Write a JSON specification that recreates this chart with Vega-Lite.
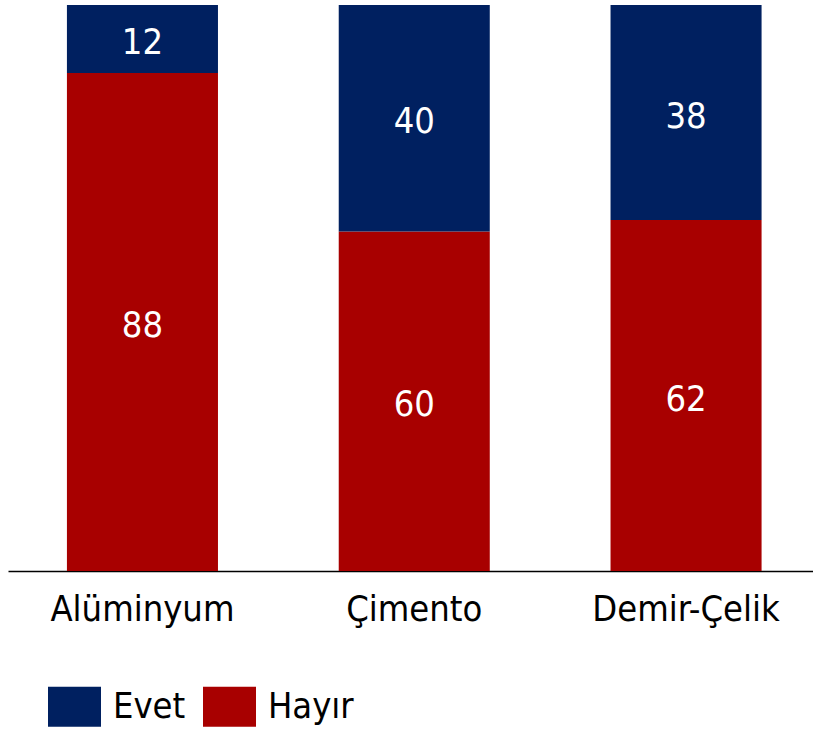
{
  "$schema": "https://vega.github.io/schema/vega-lite/v6.json",
  "width": 805,
  "height": 566,
  "autosize": "none",
  "padding": {"left": 8, "top": 5, "right": 0, "bottom": 159},
  "background": "white",
  "config": {"view": {"stroke": null}},
  "data": {
    "values": [
      {"cat": "Alüminyum", "group": "Hayır", "value": 88},
      {"cat": "Alüminyum", "group": "Evet", "value": 12},
      {"cat": "Çimento", "group": "Hayır", "value": 60},
      {"cat": "Çimento", "group": "Evet", "value": 40},
      {"cat": "Demir-Çelik", "group": "Hayır", "value": 62},
      {"cat": "Demir-Çelik", "group": "Evet", "value": 38}
    ]
  },
  "transform": [
    {"stack": "value", "groupby": ["cat"], "sort": [{"field": "group", "order": "descending"}], "as": ["v0", "v1"]},
    {"calculate": "(datum.v0 + datum.v1) / 2", "as": "labelPos"}
  ],
  "encoding": {
    "x": {
      "field": "cat",
      "type": "nominal",
      "sort": ["Alüminyum", "Çimento", "Demir-Çelik"],
      "scale": {"paddingInner": 0.4443, "paddingOuter": 0.203, "align": 0.534},
      "axis": {
        "title": null,
        "domain": true,
        "domainColor": "#000000",
        "domainWidth": 1.5,
        "ticks": false,
        "labelAngle": 0,
        "labelFont": "DejaVu Sans Condensed",
        "labelFontSize": 36,
        "labelColor": "#000000",
        "labelPadding": 21,
        "labelLimit": 0
      }
    }
  },
  "layer": [
    {
      "mark": {"type": "bar"},
      "encoding": {
        "y": {"field": "v0", "type": "quantitative", "scale": {"domain": [0, 100]}, "axis": null},
        "y2": {"field": "v1"},
        "color": {
          "field": "group",
          "type": "nominal",
          "scale": {"domain": ["Evet", "Hayır"], "range": ["#002060", "#A80000"]},
          "legend": {
            "title": null,
            "orient": "none",
            "legendX": 40,
            "legendY": 675,
            "direction": "horizontal",
            "symbolType": "M-1,-0.755H1V0.755H-1Z",
            "symbolSize": 2809,
            "symbolStrokeWidth": 0,
            "symbolOpacity": 1,
            "labelFont": "DejaVu Sans Condensed",
            "labelFontSize": 36,
            "labelColor": "#000000",
            "labelOffset": 12,
            "columnPadding": 17
          }
        }
      }
    },
    {
      "mark": {"type": "text", "color": "white", "font": "DejaVu Sans Condensed", "fontSize": 36, "baseline": "middle", "align": "center", "dy": 4},
      "encoding": {
        "y": {"field": "labelPos", "type": "quantitative"},
        "text": {"field": "value", "type": "quantitative"}
      }
    }
  ]
}
